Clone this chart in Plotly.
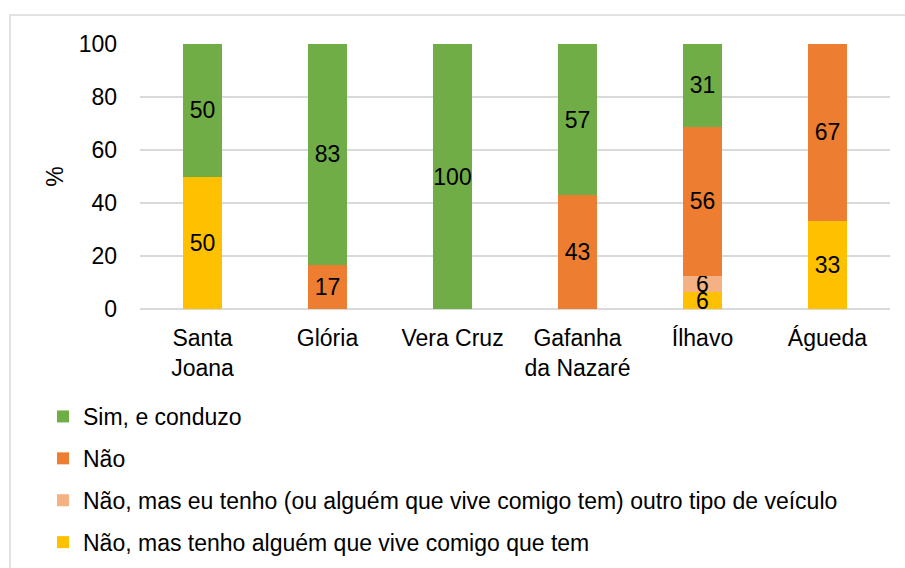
import plotly.graph_objects as go

categories = ["Santa<br>Joana", "Glória", "Vera Cruz", "Gafanha<br>da Nazaré", "Ílhavo", "Águeda"]

# stacked bottom -> top
nao_tenho_alguem = [50, None, None, None, 6.25, 33.33]
nao_outro_veiculo = [None, None, None, None, 6.25, None]
nao = [None, 16.67, None, 42.86, 56.25, 66.67]
sim_conduzo = [50, 83.33, 100, 57.14, 31.25, None]

series = [
    ("Não, mas tenho alguém que vive comigo que tem", nao_tenho_alguem, "#FFC000"),
    ("Não, mas eu tenho (ou alguém que vive comigo tem) outro tipo de veículo", nao_outro_veiculo, "#F4B183"),
    ("Não", nao, "#ED7D31"),
    ("Sim, e conduzo", sim_conduzo, "#70AD47"),
]

FONT = "Liberation Sans, Arial, sans-serif"
FS = 23

fig = go.Figure()
n = len(series)
for i, (name, vals, color) in enumerate(series):
    fig.add_trace(go.Bar(
        x=categories, y=vals, name=name,
        marker=dict(color=color, line=dict(width=0)),
        texttemplate="%{y:.0f}", textposition="inside",
        insidetextanchor="middle", textangle=0,
        textfont=dict(color="black", size=FS, family=FONT),
        legendgroup=f"g{i}", legendrank=n - i, hoverinfo="skip",
    ))

L, R, T, B = 140, 15, 44, 259
W, H = 905, 568
pw, ph = W - L - R, H - T - B

def px_x(p):
    return (p - L) / pw

def px_y(p):
    return (H - B - p) / ph

fig.update_layout(
    width=W, height=H,
    margin=dict(l=L, r=R, t=T, b=B, autoexpand=False),
    barmode="stack", bargap=0.688,
    plot_bgcolor="white", paper_bgcolor="white",
    font=dict(family=FONT, size=FS, color="black"),
    uniformtext=dict(minsize=FS, mode="show"),
    showlegend=True,
    legend=dict(
        x=px_x(43), y=px_y(395), xanchor="left", yanchor="top",
        orientation="v", traceorder="grouped", tracegroupgap=9,
        font=dict(size=FS, family=FONT, color="black"),
        bgcolor="rgba(0,0,0,0)",
    ),
    xaxis=dict(
        showgrid=False, showline=False, zeroline=False, ticks="",
        tickfont=dict(size=FS), ticklabelstandoff=13, automargin=False,
    ),
    yaxis=dict(
        range=[0, 100], dtick=20, tick0=0,
        showgrid=True, gridcolor="#D9D9D9", gridwidth=1.5,
        zeroline=True, zerolinecolor="#D9D9D9", zerolinewidth=1.5,
        showline=False, ticks="", tickfont=dict(size=FS),
        ticklabelstandoff=22, automargin=False,
        title=dict(text="%", font=dict(size=FS), standoff=8),
    ),
    shapes=[dict(
        type="rect", xref="paper", yref="paper",
        x0=px_x(10), x1=px_x(907), y0=px_y(585), y1=px_y(15),
        line=dict(color="#D9D9D9", width=1.5), fillcolor="rgba(0,0,0,0)",
        layer="below",
    )],
)

fig.write_html(
    "out.html",
    config={"displayModeBar": False},
    post_script="document.body.style.margin='0';document.body.style.overflow='hidden';",
)
